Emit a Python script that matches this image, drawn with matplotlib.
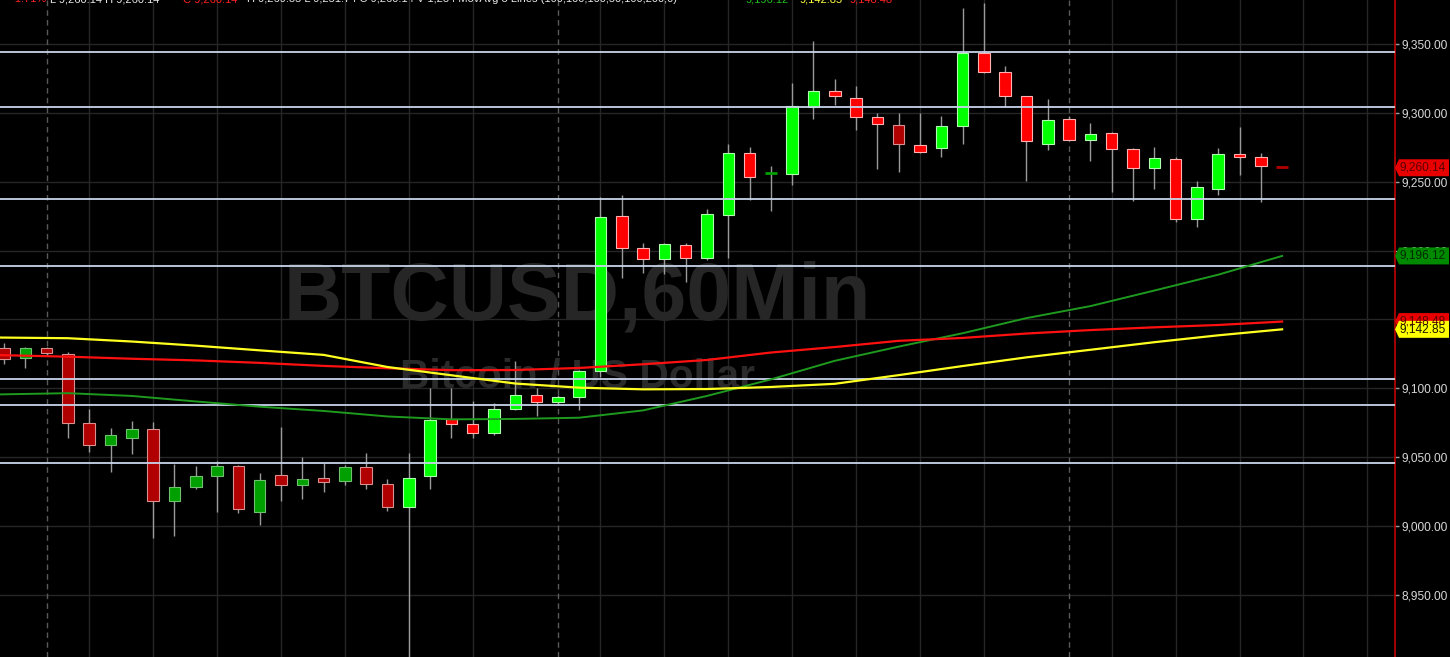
import matplotlib
matplotlib.use('Agg')
import matplotlib.pyplot as plt
from matplotlib.patches import Rectangle, Polygon
from matplotlib import font_manager as fm

# ---------------- data ----------------
opens = [9129.5, 9121.8, 9129.1, 9124.7, 9074.6, 9058.7, 9063.8, 9070.5, 9018.2, 9028.6,
         9036.4, 9043.6, 9010.3, 9037.3, 9029.8, 9034.7, 9032.6, 9043.1, 9030.8, 9013.7,
         9036.4, 9077.5, 9073.9, 9067.4, 9084.8, 9095.0, 9089.9, 9094.0, 9112.4, 9225.4,
         9202.1, 9193.7, 9203.9, 9194.9, 9225.9, 9271.1, 9255.8, 9255.6, 9304.5, 9315.9,
         9311.0, 9297.2, 9291.2, 9276.9, 9274.5, 9290.3, 9343.2, 9329.7, 9312.2, 9277.4,
         9295.8, 9280.3, 9285.6, 9274.0, 9260.0, 9266.7, 9223.2, 9245.0, 9270.1, 9268.2, 9261.0]
highs = [9132.9, 9130.0, 9130.0, 9126.2, 9084.8, 9071.5, 9076.5, 9075.8, 9045.1, 9043.9,
         9047.5, 9044.5, 9038.8, 9072.2, 9050.4, 9046.0, 9044.1, 9053.3, 9034.4, 9053.3,
         9100.3, 9100.1, 9090.8, 9089.6, 9119.9, 9100.1, 9095.0, 9113.5, 9238.7, 9240.4,
         9205.3, 9205.5, 9205.3, 9230.0, 9277.2, 9275.4, 9261.4, 9321.5, 9352.2, 9324.6,
         9319.5, 9300.1, 9299.7, 9300.1, 9298.0, 9376.4, 9380.0, 9334.2, 9312.5, 9310.3,
         9297.7, 9292.4, 9286.0, 9274.5, 9275.0, 9267.7, 9250.8, 9274.3, 9290.0, 9271.1, 9261.0]
lows = [9117.7, 9115.0, 9124.2, 9063.8, 9054.0, 9039.5, 9052.1, 8991.2, 8992.8, 9027.0,
        9010.0, 9009.3, 9000.8, 9018.2, 9019.5, 9025.0, 9029.8, 9026.7, 9011.0, 8900.0,
        9026.7, 9063.8, 9064.0, 9066.0, 9084.0, 9080.2, 9088.0, 9084.3, 9108.5, 9180.3,
        9183.5, 9182.8, 9177.0, 9193.2, 9194.9, 9236.8, 9229.0, 9247.6, 9295.3, 9305.7,
        9287.6, 9259.0, 9257.3, 9271.0, 9267.7, 9277.2, 9329.0, 9304.0, 9250.5, 9273.1,
        9280.0, 9265.1, 9242.3, 9236.2, 9244.5, 9221.0, 9217.4, 9240.4, 9254.7, 9235.3, 9260.14]
closes = [9121.1, 9129.1, 9125.5, 9074.6, 9058.9, 9066.2, 9070.7, 9018.2, 9028.6, 9036.6,
          9043.6, 9012.4, 9033.5, 9029.8, 9034.4, 9032.3, 9043.1, 9030.6, 9013.7, 9034.9,
          9077.0, 9073.9, 9067.4, 9084.8, 9095.0, 9089.9, 9093.5, 9112.4, 9224.6, 9202.1,
          9193.7, 9204.6, 9194.9, 9226.4, 9271.1, 9253.2, 9256.2, 9305.0, 9316.1, 9312.5,
          9296.8, 9291.7, 9277.2, 9271.6, 9290.5, 9343.2, 9329.5, 9312.0, 9279.4, 9294.8,
          9280.3, 9284.9, 9273.8, 9260.0, 9267.5, 9223.2, 9246.4, 9270.1, 9267.9, 9261.4, 9260.14]
dimmed = [1, 1, 1, 1, 1, 1, 1, 1, 1, 1,
          1, 1, 1, 1, 1, 1, 1, 1, 1, 0,
          0, 0, 0, 0, 0, 0, 0, 0, 0, 0,
          0, 0, 0, 0, 0, 0, 1, 0, 0, 0,
          0, 0, 1, 0, 0, 0, 0, 0, 0, 0,
          0, 0, 0, 0, 0, 0, 0, 0, 0, 0, 1]

ma_idx = [-1, 3, 6, 9, 12, 15, 18, 21, 24, 27, 30, 33, 36, 39, 42, 45, 48, 51, 54, 57, 60]
ma_yellow = [9137.0, 9136.4, 9134.0, 9131.0, 9127.6, 9124.3, 9115.5, 9109.5, 9103.5, 9100.5, 9099.3,
             9099.5, 9101.0, 9103.3, 9109.6, 9116.2, 9122.5, 9128.0, 9133.5, 9138.5, 9142.85]
ma_red = [9124.4, 9123.0, 9121.5, 9120.3, 9118.5, 9116.3, 9114.6, 9113.2, 9113.3, 9114.8, 9117.5,
          9120.6, 9126.0, 9130.0, 9134.5, 9136.6, 9139.8, 9142.3, 9144.3, 9146.0, 9148.48]
ma_green = [9095.4, 9096.5, 9094.5, 9090.5, 9086.7, 9083.6, 9079.6, 9077.5, 9077.8, 9078.7, 9084.0,
            9094.5, 9106.5, 9120.0, 9130.3, 9140.0, 9151.0, 9159.7, 9171.0, 9182.5, 9196.12]

levels = [9343.8, 9303.9, 9237.8, 9188.8, 9106.8, 9087.6, 9045.8]
tick_vals = [8950, 9000, 9050, 9100, 9150, 9200, 9250, 9300, 9350]
tick_labels = ['8,950.00', '9,000.00', '9,050.00', '9,100.00', '9,150.00',
               '9,200.00', '9,250.00', '9,300.00', '9,350.00']
grid_idx = [4, 7, 10, 13, 16, 19, 22, 28, 31, 34, 37, 40, 43, 46, 52, 55, 58, 61, 64]
day_idx = [2, 26, 50]

tag_values = [9260.14, 9196.12, 9148.48, 9142.85]
tag_texts = ['9,260.14', '9,196.12', '9,148.48', '9,142.85']

# ---------------- figure ----------------
W, H = 1450, 657
AXW = 1395
fig = plt.figure(figsize=(W / 100, H / 100), dpi=100, facecolor='black')
ax = fig.add_axes([0, 0, AXW / W, 1])
ax.set_facecolor('black')
YTOP, YBOT = 9381.9, 8905.0
ax.set_xlim(-0.19, 65.3)
ax.set_ylim(YBOT, YTOP)
px_y = (YTOP - YBOT) / H  # price per pixel

FONT = 'Liberation Sans'
names = {f.name for f in fm.fontManager.ttflist}
WM_FONT = 'Liberation Sans Narrow' if 'Liberation Sans Narrow' in names else FONT

# grid
for v in tick_vals:
    ax.axhline(v, color='#262626', lw=1, zorder=0.5)
for g in grid_idx:
    ax.axvline(g, color='#262626', lw=1, zorder=0.5)
for d in day_idx:
    ax.axvline(d, color='#5a5a5a', lw=1, ls=(0, (4, 3)), zorder=0.6)

# watermark
renderer = fig.canvas.get_renderer()
def fit_text(x_px, y_px, s, target_w, weight, color, family):
    t = ax.text(x_px / AXW, 1 - y_px / H, s, transform=ax.transAxes, ha='left', va='baseline',
                fontsize=50, fontweight=weight, color=color, family=family, zorder=0.8)
    w = t.get_window_extent(renderer).width
    t.set_fontsize(50 * target_w / w)
    return t

fit_text(284, 320, 'BTCUSD,60Min', 588, 'bold', '#262626', WM_FONT)
fit_text(400, 388, 'Bitcoin / US Dollar', 354, 'bold', '#2a2a2a', FONT)

# support / resistance levels
for lv in levels:
    ax.axhline(lv, color='#c8d4ea', lw=1.3, zorder=5)

# candles
BW = 0.54
for i, (o, h, l, c, dm) in enumerate(zip(opens, highs, lows, closes, dimmed)):
    up = c >= o
    if up:
        face, edge = ('#00a000', '#70c070') if dm else ('#00ff00', '#b0ffb0')
    else:
        face, edge = ('#b00000', '#d89090') if dm else ('#ff0000', '#ffb0b0')
    ax.vlines(i, l, h, color='#9a9a9a', lw=1, zorder=3)
    bot = min(o, c)
    hgt = abs(c - o)
    if hgt < 1.5 * px_y:
        ax.hlines((o + c) / 2, i - BW / 2, i + BW / 2, color=face, lw=2, zorder=4)
    else:
        ax.add_patch(Rectangle((i - BW / 2, bot), BW, hgt, facecolor=face, edgecolor=edge,
                               lw=0.8, zorder=4))

# moving averages
ax.plot(ma_idx, ma_green, color='#1e9a1e', lw=1.4, zorder=6)
ax.plot(ma_idx, ma_red, color='#ff1010', lw=1.6, zorder=6)
ax.plot(ma_idx, ma_yellow, color='#ffff20', lw=1.6, zorder=6)

# right axis
for s in ['left', 'top', 'bottom']:
    ax.spines[s].set_visible(False)
ax.spines['right'].set_color('#c00000')
ax.spines['right'].set_linewidth(1.2)
ax.set_xticks([])
ax.yaxis.tick_right()
ax.set_yticks(tick_vals)
ax.set_yticklabels(tick_labels, family=FONT)
ax.tick_params(axis='y', colors='#d8d8d8', labelsize=8.6, length=3, width=1, pad=1.5)
ax.tick_params(axis='y', which='major', color='#a0a0a0')

# price tags on right
tag_faces = ['#e80000', '#008a00', '#e80000', '#ffff00']
tag_tcols = ['#5a0000', '#002a00', '#5a0000', '#1a1a00']
hh = 8.5 * px_y
for v, s, fc, tc in zip(tag_values, tag_texts, tag_faces, tag_tcols):
    x0 = 1.0
    x1 = 1.0 + 4 / AXW
    x2 = 1.0 + 54 / AXW
    poly = Polygon([(x0, v), (x1, v + hh), (x2, v + hh), (x2, v - hh), (x1, v - hh)],
                   closed=True, transform=ax.get_yaxis_transform(), facecolor=fc,
                   edgecolor='none', clip_on=False, zorder=20)
    ax.add_patch(poly)
    ax.text(1.0 + 4 / AXW, v, s, transform=ax.get_yaxis_transform(), ha='left', va='center',
            fontsize=8.6, color=tc, family=FONT, clip_on=False, zorder=21)

# clipped header line at very top
hdr = [("-1.71%", '#ff2020', 12),
       ("L 9,260.14 H 9,260.14", '#e8e8e8', 50),
       ("C 9,260.14", '#ff2020', 183),
       ("H 9,269.35 L 9,251.74 C 9,260.14 V 1,234 MovAvg 3 Lines (100,100,100,50,100,200,0)", '#e8e8e8', 247),
       ("9,196.12", '#20c020', 745),
       ("9,142.85", '#ffff40', 800),
       ("9,148.48", '#ff2020', 850)]
for s, col, x in hdr:
    fig.text(x / W, 1 - 2.5 / H, s, color=col, fontsize=8, family=FONT, ha='left', va='baseline')

fig.savefig('out.png', dpi=100, facecolor='black')
